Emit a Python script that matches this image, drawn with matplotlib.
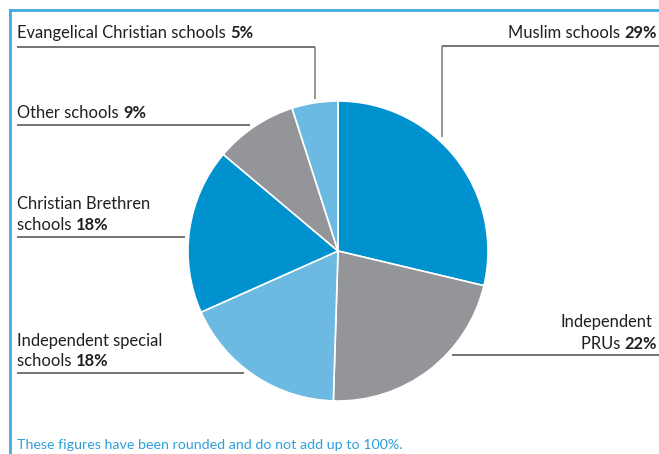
import matplotlib
matplotlib.use("Agg")
import matplotlib.pyplot as plt

# slices, clockwise from 12 o'clock
labels = ["Muslim schools", "Independent PRUs", "Independent special schools",
          "Christian Brethren schools", "Other schools", "Evangelical Christian schools"]
shares = [29, 22, 18, 18, 9, 5]
colors = ["#0091cf", "#939598", "#6cbae2", "#0091cf", "#939598", "#6cbae2"]
footnote = "These figures have been rounded and do not add up to 100%."

W, H = 659, 454
plt.rcParams["font.family"] = ["Lato", "DejaVu Sans"]
FS = 11.9
TXT = "#231f20"
LINE = "#4d4d4f"
BORDER = "#41a9df"

fig = plt.figure(figsize=(W / 100, H / 100), dpi=100)
ax = fig.add_axes([0, 0, 1, 1])

def py(y):
    # pixel row (from top) -> data y
    return H - y

ax.pie(shares, colors=colors, startangle=90, counterclock=False,
       center=(338, py(251)), radius=150, normalize=True,
       wedgeprops=dict(edgecolor="white", linewidth=1.2), frame=True)
ax.set_xlim(0, W)
ax.set_ylim(0, H)
ax.set_aspect("auto")
ax.axis("off")

fig.canvas.draw()
renderer = fig.canvas.get_renderer()

def label(x, y, normal, bold, ha="left"):
    if ha == "left":
        t = ax.text(x, py(y), normal, fontsize=FS, color=TXT, va="baseline", ha="left")
        bb = t.get_window_extent(renderer)
        ax.text(bb.x1, py(y), bold, fontsize=FS, color=TXT, va="baseline",
                ha="left", fontweight="bold")
    else:
        t = ax.text(x, py(y), bold, fontsize=FS, color=TXT, va="baseline",
                    ha="right", fontweight="bold")
        bb = t.get_window_extent(renderer)
        ax.text(bb.x0, py(y), normal, fontsize=FS, color=TXT, va="baseline", ha="right")

def plain(x, y, s, ha="left"):
    ax.text(x, py(y), s, fontsize=FS, color=TXT, va="baseline", ha=ha)

def hline(x0, x1, y):
    ax.plot([x0, x1], [py(y), py(y)], color=LINE, lw=1.1, solid_capstyle="butt")

def vline(x, y0, y1):
    ax.plot([x, x], [py(y0), py(y1)], color="#77787b", lw=1.1, solid_capstyle="butt")

# Muslim schools (right, top)
label(657, 38, "Muslim schools ", f"{shares[0]}%", ha="right")
hline(442, 659, 46)
vline(442, 46, 137)

# Independent PRUs (right, bottom)
plain(652, 327, "Independent", ha="right")
label(657, 349, "PRUs ", f"{shares[1]}%", ha="right")
hline(452, 659, 355)

# Independent special schools
plain(17, 346, "Independent special")
label(17, 366, "schools ", f"{shares[2]}%")
hline(17, 244, 373)

# Christian Brethren schools
plain(17, 209, "Christian Brethren")
label(17, 230, "schools ", f"{shares[3]}%")
hline(17, 185, 237)

# Other schools
label(17, 118, "Other schools ", f"{shares[4]}%")
hline(17, 250, 125)

# Evangelical Christian schools
label(17, 38, "Evangelical Christian schools ", f"{shares[5]}%")
hline(17, 315, 47)
vline(315, 47, 99)

# frame lines
ax.plot([10, W], [py(10), py(10)], color=BORDER, lw=2)
ax.plot([10, 10], [py(10), 0], color=BORDER, lw=2)

ax.text(17, py(449), footnote, fontsize=10.3, color="#2e9fd9", va="baseline", ha="left")

fig.savefig("out.png", dpi=100)
